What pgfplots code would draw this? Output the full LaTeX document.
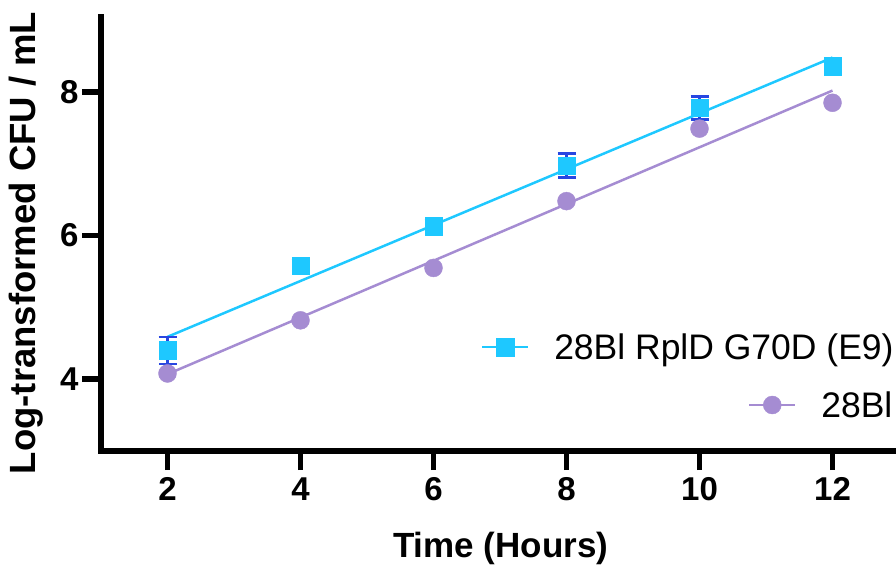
\documentclass[border=0pt]{standalone}
\usepackage{fontspec}
\setmainfont{Liberation Sans}
\usepackage{pgfplots}
\pgfplotsset{compat=1.18}
\definecolor{cyanc}{RGB}{30,200,255}
\definecolor{purc}{RGB}{165,140,210}
\definecolor{errc}{RGB}{40,70,225}
\pgfplotsset{
  base/.style={
    at={(101pt,120pt)}, anchor=south west,
    scale only axis, width=798pt, height=434.4pt,
    xmin=1, xmax=13, ymin=3, ymax=9.05,
  },
  leg/.style={
    legend style={draw=none, fill=none, inner sep=0pt, outer sep=0pt,
      font=\fontsize{35.5}{35.5}\selectfont, anchor=west,
      nodes={inner sep=0pt, outer sep=0pt}},
  },
}
\begin{document}
\begin{tikzpicture}
\path[use as bounding box] (0,0) rectangle (896pt,571pt);
\begin{axis}[base, leg,
  axis x line=bottom, axis y line=left,
  axis line style={-, line width=5.5pt, line cap=rect, black},
  xtick={2,4,6,8,10,12}, ytick={4,6,8},
  tick align=outside, major tick length=19pt,
  tick style={line width=5.5pt, black},
  /pgf/number format/assume math mode=true,
  ticklabel style={font=\fontsize{33}{33}\selectfont\bfseries},
  xticklabel style={yshift=-4pt},
  every axis x label/.style={at={(axis description cs:0.501,-0.244)}, anchor=base},
  every axis y label/.style={at={(axis description cs:-0.0815,0.479)}, anchor=base, rotate=90},
  xlabel={\fontsize{35}{35}\selectfont\bfseries Time (Hours)},
  ylabel={\fontsize{36.5}{36.5}\selectfont\bfseries Log-transformed CFU / mL},
  legend style={at={(axis description cs:0.4762,0.2394)}},
  clip=false,
]
% fitted lines
\addplot[cyanc, line width=2.5pt, forget plot] coordinates {(2,4.59) (12,8.48)};
\addplot[purc, line width=2.5pt, forget plot] coordinates {(2,4.07) (12,8.02)};
% purple points
\addplot[only marks, mark=*, mark size=9pt, mark options={fill=purc, draw=purc, line width=0.4pt}, forget plot]
  coordinates {(2,4.08) (4,4.82) (6,5.55) (8,6.48) (10,7.49) (12,7.85)};
% cyan points with error bars
\addplot[only marks, mark=square*, mark size=8.8pt, mark options={fill=cyanc, draw=cyanc, line width=0.4pt}, forget plot,
  error bars/.cd, y dir=both, y explicit,
  error bar style={errc, line width=2.5pt},
  error mark options={errc, line width=2.5pt, mark size=9pt, rotate=90}]
  coordinates {(2,4.40) +- (0,0.19) (4,5.58) +- (0,0.08) (6,6.13) +- (0,0.08)
               (8,6.975) +- (0,0.165) (10,7.78) +- (0,0.16) (12,8.36) +- (0,0.06)};
\addlegendimage{legend image code/.code={
  \path[draw=cyanc, line width=2.5pt] (0pt,0pt) -- (46pt,0pt);
  \path[draw=cyanc, fill=cyanc, line width=0.4pt] (14.2pt,-8.8pt) rectangle (31.8pt,8.8pt);
  \path[draw=none, fill=none] (0pt,0pt) -- (72pt,0pt);}}
\addlegendentry{28Bl RplD G70D (E9)}
\end{axis}
\begin{axis}[base, leg, hide axis,
  legend style={at={(axis description cs:0.8108,0.1059)}}]
\addlegendimage{legend image code/.code={
  \path[draw=purc, line width=2.5pt] (0pt,0pt) -- (46pt,0pt);
  \path[draw=purc, fill=purc, line width=0.4pt] (23pt,0pt) circle[radius=9pt];
  \path[draw=none, fill=none] (0pt,0pt) -- (72pt,0pt);}}
\addlegendentry{28Bl}
\end{axis}
\end{tikzpicture}
\end{document}
